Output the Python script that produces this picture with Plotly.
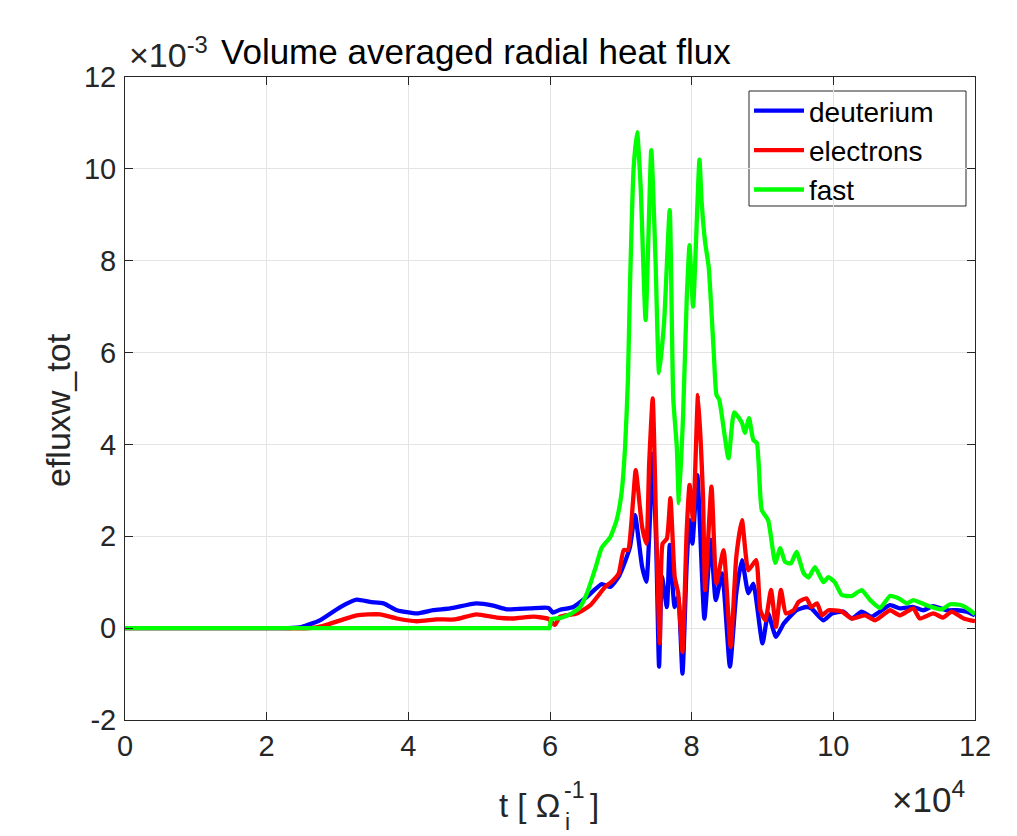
import plotly.graph_objects as go

# ---- data (t in units of 1e4, flux in units of 1e-3) ----
t_deut = [0, 1.0, 2.0, 2.3, 2.5, 2.75, 3.04, 3.27, 3.46, 3.65, 3.84, 4.12, 4.35, 4.59, 4.96, 5.2, 5.39, 5.72, 5.98,
          6.04, 6.14, 6.33, 6.52, 6.73, 6.85, 6.97, 7.06, 7.13, 7.2, 7.3, 7.36, 7.41, 7.45, 7.5, 7.54, 7.58, 7.65,
          7.69, 7.76, 7.81, 7.87, 7.93, 7.97, 8.01, 8.08, 8.18, 8.27, 8.34, 8.43, 8.54, 8.63, 8.71, 8.8, 8.87, 9.0,
          9.08, 9.19, 9.3, 9.48, 9.62, 9.69, 9.86, 9.98, 10.14, 10.26, 10.4, 10.54, 10.8, 10.94, 11.13, 11.27,
          11.41, 11.6, 11.74, 11.88, 12.0]
q_deut = [0, 0, 0, 0, 0.03, 0.17, 0.46, 0.62, 0.57, 0.54, 0.39, 0.32, 0.39, 0.43, 0.54, 0.49, 0.41, 0.43, 0.44,
          0.34, 0.40, 0.46, 0.68, 0.96, 0.9, 1.12, 1.45, 1.77, 2.46, 1.34, 1.01, 2.35, 3.8, 1.77, -0.84, 1.12, 0.46,
          1.81, 0.46, 0.68, -0.99, 1.41, 2.35, 1.84, 3.33, 0.21, 1.92, 0.61, 1.19, -0.84, 0.76, 1.48, 0.76, 0.97,
          -0.33, 0.32, -0.19, 0.1, 0.39, 0.46, 0.43, 0.17, 0.32, 0.36, 0.21, 0.36, 0.25, 0.5, 0.43, 0.46, 0.39,
          0.48, 0.39, 0.39, 0.36, 0.28]

t_elec = [0, 1.0, 2.0, 2.6, 2.8, 3.04, 3.27, 3.6, 3.84, 4.12, 4.4, 4.66, 4.96, 5.25, 5.48, 5.77, 5.98, 6.07, 6.14,
          6.38, 6.57, 6.78, 6.87, 6.97, 7.04, 7.1, 7.17, 7.21, 7.3, 7.36, 7.4, 7.45, 7.5, 7.55, 7.59, 7.65, 7.7,
          7.76, 7.81, 7.87, 7.93, 7.97, 8.02, 8.09, 8.16, 8.19, 8.28, 8.35, 8.45, 8.55, 8.63, 8.71, 8.8, 8.91,
          8.97, 9.04, 9.12, 9.19, 9.26, 9.33, 9.44, 9.51, 9.62, 9.69, 9.77, 9.84, 9.93, 10.12, 10.26, 10.45, 10.59,
          10.8, 10.94, 11.13, 11.22, 11.41, 11.55, 11.67, 11.84, 12.0]
q_elec = [0, 0, 0, 0, 0.05, 0.17, 0.28, 0.3, 0.21, 0.15, 0.19, 0.19, 0.3, 0.23, 0.21, 0.25, 0.2, 0.07, 0.25,
          0.32, 0.5, 0.9, 1.01, 1.19, 1.7, 1.7, 2.72, 3.44, 2.21, 1.84, 3.59, 5.0, 2.13, -0.33, 1.84, 1.95, 2.83,
          1.12, 0.76, -0.52, 2.13, 3.12, 2.35, 5.08, 2.86, 0.83, 3.08, 0.97, 1.7, -0.41, 1.55, 2.35, 1.26, 1.48,
          0.39, 0.17, 0.83, 0.03, 0.83, 0.32, 0.39, 0.57, 0.65, 0.46, 0.54, 0.28, 0.39, 0.36, 0.21, 0.28, 0.17,
          0.39, 0.28, 0.43, 0.21, 0.32, 0.23, 0.36, 0.21, 0.15]

t_fast = [0, 1.0, 2.0, 3.0, 4.0, 5.0, 5.8, 5.95, 5.99, 6.02, 6.14, 6.28, 6.42, 6.52, 6.64, 6.73, 6.85, 6.94, 7.01,
          7.06, 7.1, 7.13, 7.18, 7.23, 7.28, 7.35, 7.43, 7.49, 7.54, 7.61, 7.69, 7.74, 7.79, 7.82, 7.88, 7.93,
          7.97, 8.02, 8.11, 8.14, 8.19, 8.24, 8.31, 8.35, 8.39, 8.52, 8.6, 8.71, 8.75, 8.81, 8.87, 8.92, 8.99,
          9.08, 9.18, 9.25, 9.32, 9.4, 9.48, 9.58, 9.65, 9.74, 9.86, 9.93, 10.02, 10.12, 10.26, 10.4, 10.52,
          10.66, 10.8, 10.92, 11.04, 11.13, 11.25, 11.39, 11.53, 11.65, 11.81, 11.93, 12.0]
q_fast = [0, 0, 0, 0, 0, 0, 0, 0, 0, 0.2, 0.22, 0.3, 0.45, 0.75, 1.3, 1.75, 1.98, 2.35, 2.94,
          3.94, 5.4, 7.5, 10.0, 10.8, 9.6, 6.71, 10.41, 8.0, 5.55, 6.64, 9.1, 5.0, 3.95, 2.72, 4.68, 7.15,
          8.34, 7.0, 10.2, 9.3, 8.4, 7.87, 6.06, 5.08, 4.97, 3.7, 4.7, 4.47, 4.25, 4.57, 4.1, 4.03, 2.57,
          2.35, 1.42, 1.74, 1.44, 1.41, 1.66, 1.2, 1.1, 1.33, 1.0, 1.11, 1.0, 0.72, 0.7, 0.83, 0.61,
          0.44, 0.7, 0.65, 0.54, 0.61, 0.54, 0.46, 0.41, 0.52, 0.5, 0.39, 0.3]

series_names = ["deuterium", "electrons", "fast"]
series_colors = ["#0000FF", "#FF0000", "#00FF00"]

x_ticks = [0, 2, 4, 6, 8, 10, 12]
x_ticklabels = ["0", "2", "4", "6", "8", "10", "12"]
y_ticks = [-2, 0, 2, 4, 6, 8, 10, 12]
y_ticklabels = ["-2", "0", "2", "4", "6", "8", "10", "12"]

# ---- layout geometry ----
W, H = 1017, 836
L, R, T, B = 125, 975, 77, 720
FONT = "Liberation Sans, Arial, Helvetica, sans-serif"
AX = "#262626"


def px(x):
    return (x - L) / (R - L)


def py(y):
    return (B - y) / (B - T)


fig = go.Figure()
for tx, qy, name, col in zip([t_deut, t_elec, t_fast], [q_deut, q_elec, q_fast], series_names, series_colors):
    fig.add_trace(go.Scatter(x=tx, y=qy, mode="lines", name=name,
                             line=dict(color=col, width=4.3, shape="spline", smoothing=0.5)))

axis_common = dict(showgrid=True, gridcolor="#e4e4e4", gridwidth=1, zeroline=False,
                   showline=True, linecolor=AX, linewidth=1, mirror="ticks",
                   ticks="inside", ticklen=8, tickcolor=AX, tickwidth=1,
                   tickfont=dict(family=FONT, size=29, color=AX))

fig.update_layout(
    width=W, height=H,
    margin=dict(l=L, r=W - R, t=T, b=H - B, pad=0),
    paper_bgcolor="white", plot_bgcolor="white",
    font=dict(family=FONT, color=AX),
    xaxis=dict(range=[0, 12], tickvals=x_ticks, ticktext=x_ticklabels, **axis_common),
    yaxis=dict(range=[-2, 12], tickvals=y_ticks, ticktext=y_ticklabels, ticklabelstandoff=2, **axis_common),
    showlegend=True,
    legend=dict(x=px(749), xanchor="left", y=py(86), yanchor="top",
                borderwidth=0, bgcolor="rgba(0,0,0,0)",
                font=dict(family=FONT, size=28, color="black"),
                itemwidth=50, tracegroupgap=0),
    shapes=[dict(type="rect", xref="paper", yref="paper",
                 x0=px(749), x1=px(966), y0=py(206), y1=py(91),
                 fillcolor="white", line=dict(color=AX, width=1), layer="between")],
)

ann = []
# exponent of y axis
ann.append(dict(text="×10<sup>-3</sup>", x=px(127), y=py(53), xanchor="left", yanchor="middle",
                font=dict(size=34, color=AX)))
# title
ann.append(dict(text="Volume averaged radial heat flux", x=px(219), y=py(52), xanchor="left", yanchor="middle",
                font=dict(size=35, color="black")))
# x axis label pieces
ann.append(dict(text="t [ Ω", x=px(562), y=py(805), xanchor="right", yanchor="middle",
                font=dict(size=33, color=AX)))
ann.append(dict(text="-1", x=px(562), y=py(790), xanchor="left", yanchor="middle",
                font=dict(size=23, color=AX)))
ann.append(dict(text="i", x=px(563), y=py(822), xanchor="left", yanchor="middle",
                font=dict(size=23, color=AX)))
ann.append(dict(text="]", x=px(588), y=py(805), xanchor="left", yanchor="middle",
                font=dict(size=33, color=AX)))
# x exponent
ann.append(dict(text="×10<sup>4</sup>", x=px(890), y=py(797), xanchor="left", yanchor="middle",
                font=dict(size=35, color=AX)))
# y label
ann.append(dict(text="efluxw_tot", x=px(58), y=py(410), xanchor="center", yanchor="middle",
                textangle=-90, font=dict(size=34, color=AX)))

for a in ann:
    a.update(xref="paper", yref="paper", showarrow=False)
    a["font"]["family"] = FONT
fig.update_layout(annotations=ann)

fig.write_html("out.html")
